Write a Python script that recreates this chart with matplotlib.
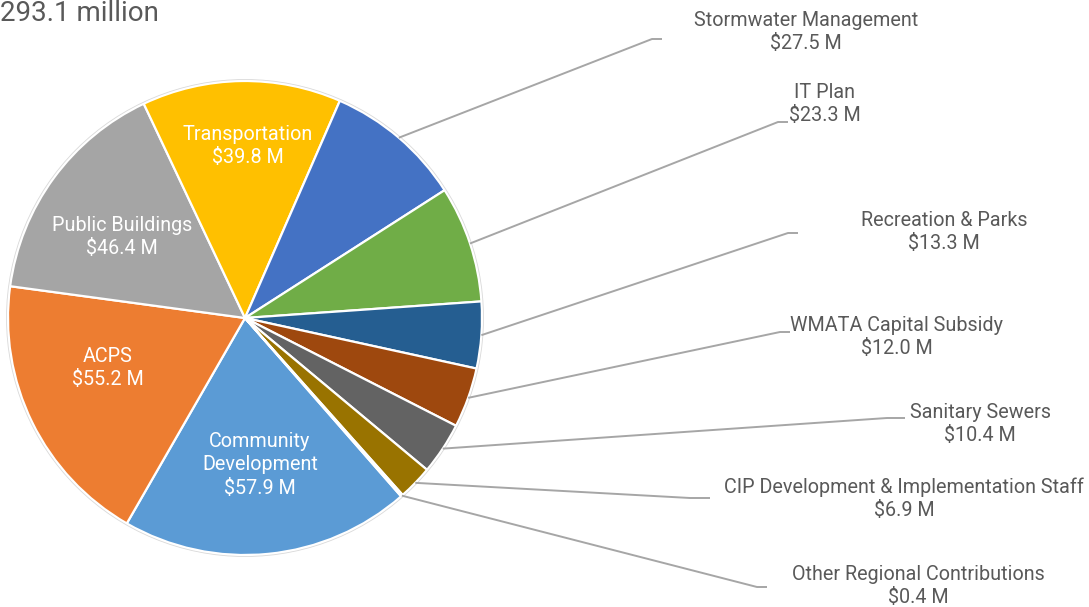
import numpy as np
import matplotlib
matplotlib.use("Agg")
import matplotlib.pyplot as plt

# CIP categories, in clockwise order starting at Community Development
categories = [
    "Community Development", "ACPS", "Public Buildings", "Transportation",
    "Stormwater Management", "IT Plan", "Recreation & Parks",
    "WMATA Capital Subsidy", "Sanitary Sewers",
    "CIP Development & Implementation Staff", "Other Regional Contributions",
]
values = [57.9, 55.2, 46.4, 39.8, 27.5, 23.3, 13.3, 12.0, 10.4, 6.9, 0.4]
colors = ["#5B9BD5", "#ED7D31", "#A5A5A5", "#FFC000", "#4472C4", "#70AD47",
          "#255E91", "#9E480E", "#636363", "#997300", "#264478"]
total_label = "293.1 million"

# label text for slices drawn inside the pie
inside_text = ["Community\nDevelopment", "ACPS", "Public Buildings", "Transportation"]

W, H = 1089, 607
cx, cy, R = 245, 318, 237  # pie centre / radius in pixels

# layout (pixel coords, y down)
inside_pos = [(260, 465), (108, 368), (122, 237), (248, 146)]
outside_pos = [(806, 32), (825, 104), (944, 232), (897, 337), (980, 424), (904, 499), (918, 586)]
elbows = [(652, 39), (778, 122), (788, 233), (780, 332), (887, 418), (690, 498), (757, 587)]
ends = [(662, 39), (788, 122), (798, 233), (790, 332), (905, 418), (710, 498), (767, 587)]

def Y(p):
    return H - p

plt.rcParams["font.family"] = ["Roboto", "DejaVu Sans"]

fig = plt.figure(figsize=(W / 100, H / 100), dpi=100)
ax = fig.add_axes([0, 0, 1, 1])

wedges, _ = ax.pie(values, colors=colors, center=(cx, Y(cy)), radius=R,
                   startangle=-48.8, counterclock=False,
                   wedgeprops=dict(edgecolor="white", linewidth=1.6))
ax.add_patch(plt.Circle((cx, Y(cy)), R + 1.5, fill=False, ec="#D9D9D9", lw=0.6))

ax.set_xlim(0, W)
ax.set_ylim(0, H)
ax.set_aspect("equal")
ax.axis("off")

fs = 14.2
gray = "#595959"

for i, txt in enumerate(inside_text):
    x, y = inside_pos[i]
    ax.text(x, Y(y), f"{txt}\n${values[i]:.1f} M", ha="center", va="center",
            color="white", fontsize=fs, linespacing=1.27)

n_in = len(inside_text)
for j, w in enumerate(wedges[n_in:]):
    i = j + n_in
    mid = np.deg2rad((w.theta1 + w.theta2) / 2)
    sx, sy = cx + R * np.cos(mid), Y(cy) + R * np.sin(mid)
    ex, ey = elbows[j]
    fx, fy = ends[j]
    ax.plot([sx, ex, fx], [sy, Y(ey), Y(fy)], color="#A6A6A6", lw=1.4,
            solid_capstyle="butt", zorder=1)
    x, y = outside_pos[j]
    ax.text(x, Y(y), f"{categories[i]}\n${values[i]:.1f} M", ha="center",
            va="center", color=gray, fontsize=fs, linespacing=1.25)

ax.text(0, Y(0), total_label, ha="left", va="top", color=gray, fontsize=20)

fig.savefig("out.png", dpi=100)
